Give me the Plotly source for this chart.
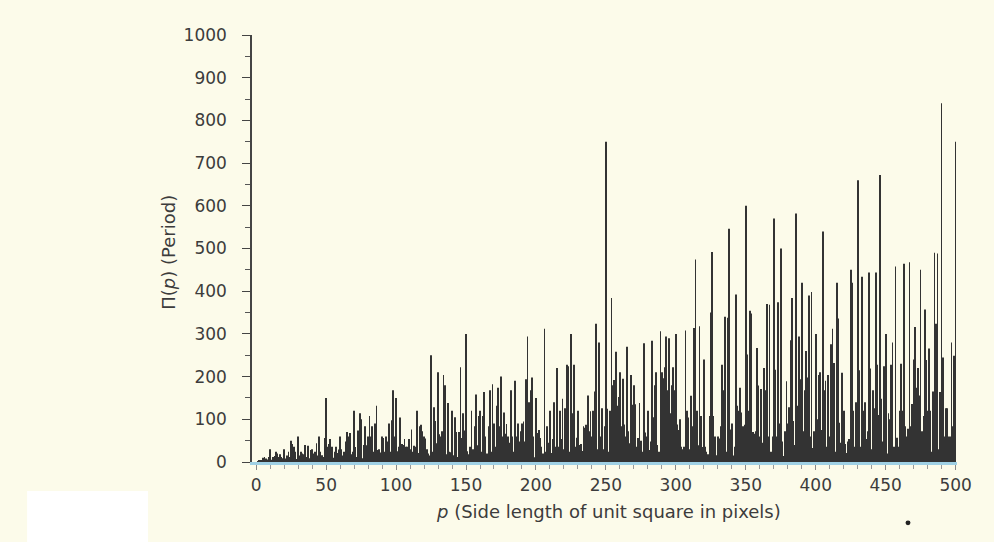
import plotly.graph_objects as go

# Side length p (pixels) and period Pi(p) for p = 1..500
p_values = list(range(1, 501))
period = [
    1, 3, 4, 3, 10, 12, 8, 6, 12, 30,
    5, 12, 14, 24, 20, 12, 18, 12, 9, 30,
    8, 15, 24, 12, 50, 42, 36, 24, 7, 60,
    15, 24, 20, 18, 40, 12, 38, 9, 28, 30,
    20, 24, 44, 15, 60, 24, 16, 12, 56, 150,
    36, 42, 54, 36, 10, 24, 36, 21, 29, 60,
    30, 15, 24, 48, 70, 60, 68, 18, 24, 120,
    35, 12, 74, 114, 100, 9, 40, 84, 39, 60,
    108, 60, 84, 24, 90, 132, 28, 30, 22, 60,
    56, 24, 60, 48, 90, 24, 98, 168, 60, 150,
    25, 36, 104, 42, 40, 54, 36, 36, 54, 30,
    76, 24, 38, 36, 120, 21, 84, 87, 72, 60,
    55, 30, 20, 15, 250, 24, 128, 96, 44, 210,
    65, 60, 72, 204, 180, 18, 138, 24, 23, 120,
    16, 105, 70, 12, 70, 222, 56, 114, 74, 300,
    25, 18, 36, 120, 30, 84, 158, 39, 108, 120,
    24, 108, 164, 60, 20, 84, 168, 24, 182, 90,
    36, 132, 174, 84, 200, 60, 116, 66, 89, 60,
    45, 168, 60, 24, 190, 60, 90, 48, 72, 90,
    95, 48, 194, 294, 140, 168, 198, 60, 11, 150,
    68, 75, 56, 36, 20, 312, 24, 84, 45, 120,
    21, 54, 140, 36, 220, 36, 120, 54, 148, 30,
    126, 228, 224, 24, 300, 114, 228, 36, 57, 120,
    40, 42, 26, 84, 80, 87, 156, 72, 119, 60,
    120, 165, 324, 30, 280, 60, 126, 30, 84, 750,
    125, 24, 120, 384, 180, 192, 258, 132, 152, 210,
    84, 195, 88, 60, 270, 72, 44, 204, 134, 180,
    135, 36, 56, 138, 50, 24, 278, 69, 60, 120,
    28, 48, 284, 105, 180, 210, 40, 24, 306, 210,
    196, 222, 294, 168, 290, 114, 180, 222, 168, 300,
    88, 75, 100, 36, 30, 36, 308, 120, 104, 30,
    155, 84, 314, 474, 120, 39, 318, 108, 35, 240,
    36, 24, 18, 108, 350, 492, 108, 60, 16, 60,
    55, 84, 228, 168, 340, 24, 338, 546, 76, 90,
    15, 36, 392, 132, 120, 174, 116, 84, 87, 600,
    252, 120, 354, 348, 70, 66, 72, 267, 179, 60,
    171, 45, 220, 168, 370, 60, 368, 24, 60, 570,
    216, 60, 374, 90, 500, 48, 14, 72, 189, 90,
    128, 285, 384, 96, 40, 582, 132, 294, 194, 420,
    72, 168, 260, 198, 390, 60, 398, 33, 72, 300,
    100, 204, 210, 75, 540, 168, 190, 36, 204, 60,
    276, 312, 232, 24, 420, 336, 92, 45, 209, 120,
    42, 21, 48, 54, 450, 420, 120, 36, 140, 660,
    215, 36, 434, 120, 140, 54, 72, 444, 219, 30,
    168, 126, 444, 228, 110, 672, 148, 48, 224, 300,
    20, 114, 100, 228, 280, 36, 458, 57, 36, 120,
    230, 120, 464, 84, 60, 78, 468, 84, 136, 240,
    316, 174, 220, 156, 450, 72, 108, 357, 239, 120,
    266, 120, 24, 165, 490, 324, 488, 30, 164, 840,
    245, 60, 126, 126, 60, 60, 280, 84, 249, 750,
]

x_ticks = [0, 50, 100, 150, 200, 250, 300, 350, 400, 450, 500]
y_ticks = [0, 100, 200, 300, 400, 500, 600, 700, 800, 900, 1000]

x_title = "<i>p</i> (Side length of unit square in pixels)"
y_title = "\u03a0(<i>p</i>) (Period)"

BG = "#fcfbea"
INK = "#3c3c3c"
FONT = "DejaVu Sans"

fig = go.Figure()
fig.add_trace(go.Bar(
    x=p_values, y=period,
    marker=dict(color="#333333", line=dict(width=0)),
    hoverinfo="x+y",
))

fig.update_layout(
    width=994, height=542,
    paper_bgcolor=BG, plot_bgcolor=BG,
    margin=dict(l=252, r=37, t=35, b=80),
    bargap=0.5,
    showlegend=False,
    font=dict(family=FONT, size=17, color=INK),
)

fig.update_xaxes(
    range=[-3, 501],
    tickvals=x_ticks, ticktext=[str(v) for v in x_ticks],
    ticks="outside", ticklen=5, tickwidth=1, tickcolor="#888888",
    minor=dict(dtick=10, tick0=0, ticks="outside", ticklen=4, tickcolor="#999999", tickwidth=1),
    showline=True, linecolor="#9fd0e4", linewidth=3,
    showgrid=False, zeroline=False,
    ticklabelstandoff=1,
    tickfont=dict(family=FONT, size=17, color=INK),
)
fig.update_yaxes(
    range=[0, 1000],
    tickvals=y_ticks, ticktext=[str(v) for v in y_ticks],
    ticks="outside", ticklen=8, tickwidth=1.3, tickcolor="#444444",
    minor=dict(dtick=50, tick0=0, ticks="outside", ticklen=5, tickcolor="#555555", tickwidth=1),
    showline=True, linecolor="#444444", linewidth=1.5,
    showgrid=False, zeroline=False,
    ticklabelstandoff=12,
    tickfont=dict(family=FONT, size=17, color=INK),
)

fig.add_annotation(
    text=x_title, xref="paper", yref="paper",
    x=0.505, y=-0.117, xanchor="center", yanchor="middle",
    showarrow=False, font=dict(family=FONT, size=18, color=INK),
)
fig.add_annotation(
    text=y_title, xref="paper", yref="paper",
    x=-0.118, y=0.492, xanchor="center", yanchor="middle", textangle=-90,
    showarrow=False, font=dict(family=FONT, size=18, color=INK),
)

# white patch of the scan at the lower left, and a small ink speck
fig.add_shape(type="rect", xref="paper", yref="paper",
              x0=-0.319, x1=-0.1475, y0=-0.0679, y1=-0.19,
              fillcolor="#ffffff", line=dict(width=0), layer="below")
fig.add_shape(type="circle", xref="paper", yref="paper",
              x0=0.927, x1=0.934, y0=-0.137, y1=-0.148,
              fillcolor="#222222", line=dict(width=0))

fig.write_html(
    "out.html",
    config={"displayModeBar": False},
    post_script="document.body.style.margin='0';document.body.style.background='%s';" % BG,
)
